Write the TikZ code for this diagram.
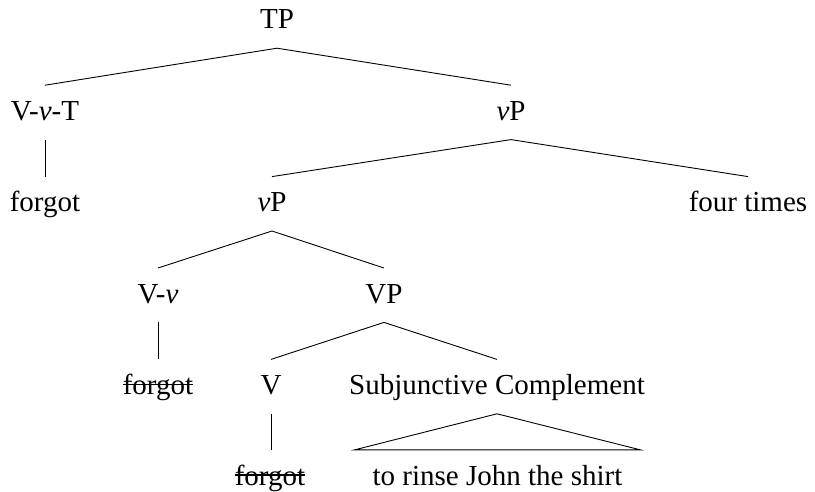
\documentclass[tikz,border=0pt]{standalone}
\usepackage{fontspec}
\setmainfont{Liberation Serif}
\usetikzlibrary{calc}
\begin{document}
\begin{tikzpicture}[
  lbl/.style={font=\fontsize{29}{31}\selectfont, inner sep=0pt,
              text height=35pt, text depth=19pt, anchor=base},
  edge/.style={line width=0.9pt},
  strike/.style={line width=1.1pt}]
\useasboundingbox (0,0) rectangle (815pt,-492pt);
% level 0
\node[lbl] (TP) at (277pt,-29pt) {TP};
% level 1
\node[lbl] (VvT) at (45pt,-120.4pt) {V-\textit{v}-T};
\node[lbl] (vP1) at (511pt,-120.4pt) {\textit{v}P};
% level 2
\node[lbl] (f1) at (45pt,-211.8pt) {forgot};
\node[lbl] (vP2) at (272pt,-211.8pt) {\textit{v}P};
\node[lbl] (four) at (748pt,-211.8pt) {four times};
% level 3
\node[lbl] (Vv) at (158pt,-303.2pt) {V-\textit{v}};
\node[lbl] (VP) at (384pt,-303.2pt) {VP};
% level 4
\node[lbl] (f2) at (158pt,-394.6pt) {forgot};
\node[lbl] (V) at (271pt,-394.6pt) {V};
\node[lbl] (SC) at (497pt,-394.6pt) {Subjunctive Complement};
% level 5
\node[lbl] (f3) at (270pt,-485pt) {forgot};
\node[lbl, minimum width=285pt] (TR) at (497.5pt,-485pt) {to rinse John the shirt};
% edges
\draw[edge] (VvT.north) -- (TP.south) -- (vP1.north);
\draw[edge] (VvT.south) -- (VvT.south |- f1.north);
\draw[edge] (vP2.north) -- (vP1.south) -- (four.north);
\draw[edge] (Vv.north) -- (vP2.south) -- (VP.north);
\draw[edge] (Vv.south) -- (Vv.south |- f2.north);
\draw[edge] (V.north) -- (VP.south) -- (SC.north);
\draw[edge] (V.south) -- (V.south |- f3.north);
\draw[edge] (TR.north west) -- (SC.south) -- (TR.north east) -- cycle;
% strike-throughs
\draw[strike] ($(f2.base west)+(0,10pt)$) -- ($(f2.base east)+(0,10pt)$);
\draw[strike] ($(f3.base west)+(0,10pt)$) -- ($(f3.base east)+(0,10pt)$);
\end{tikzpicture}
\end{document}
